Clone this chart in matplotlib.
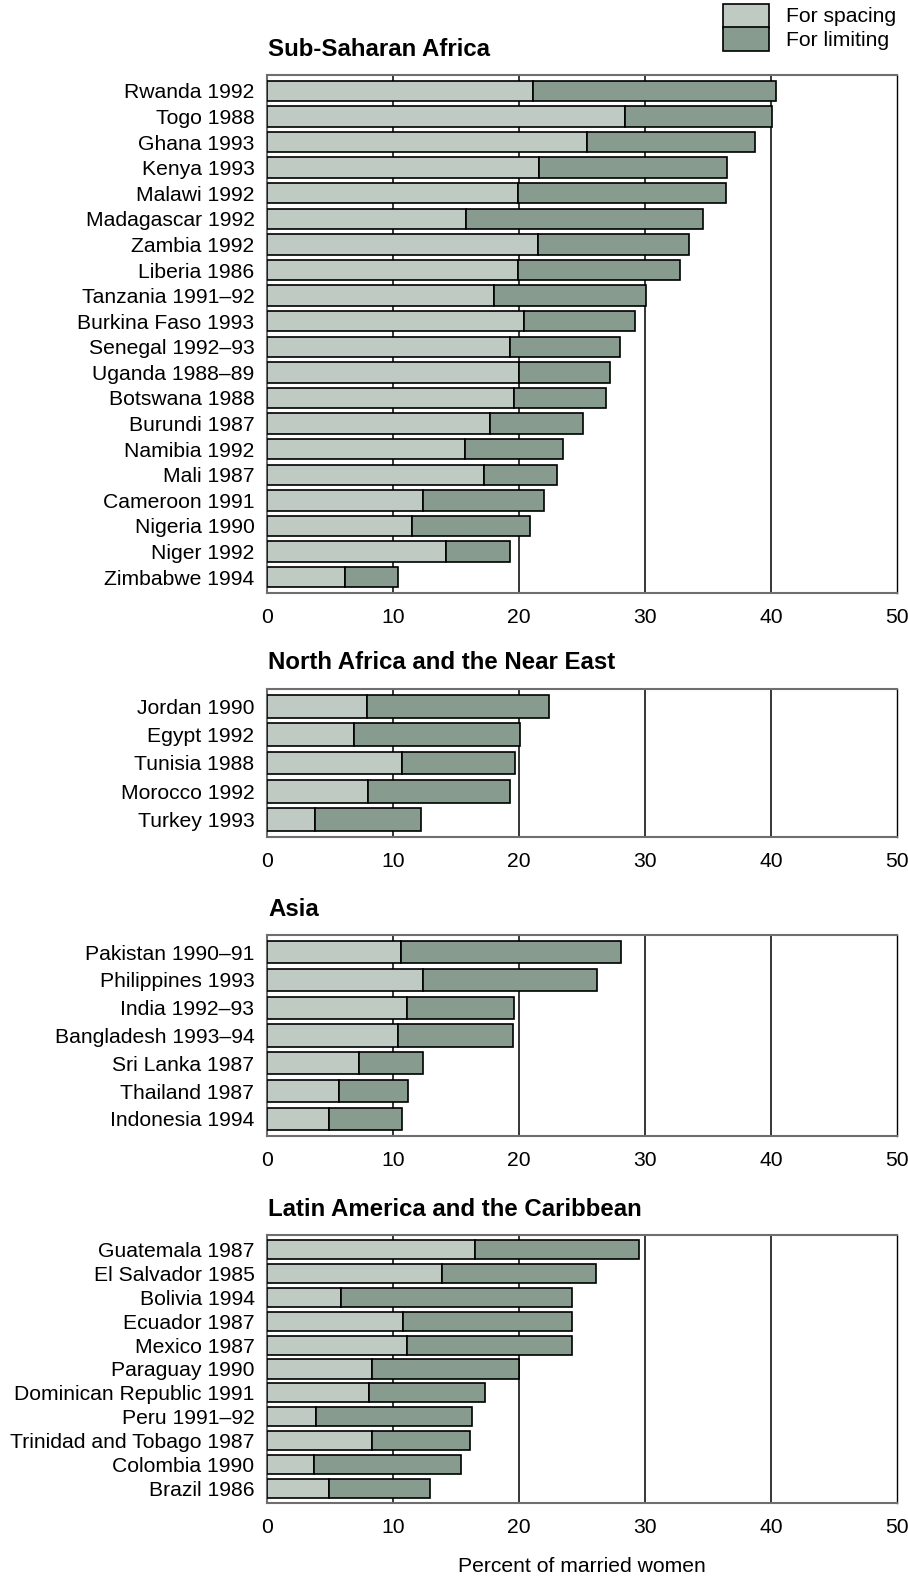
import matplotlib
matplotlib.use("Agg")
import matplotlib.pyplot as plt
from matplotlib.patches import Rectangle

plt.rcParams['font.family'] = ['Liberation Sans', 'DejaVu Sans']

# Percent of married women with unmet need for family planning
ssa_countries = ["Rwanda 1992", "Togo 1988", "Ghana 1993", "Kenya 1993", "Malawi 1992",
                 "Madagascar 1992", "Zambia 1992", "Liberia 1986", "Tanzania 1991\u201392",
                 "Burkina Faso 1993", "Senegal 1992\u201393", "Uganda 1988\u201389", "Botswana 1988",
                 "Burundi 1987", "Namibia 1992", "Mali 1987", "Cameroon 1991", "Nigeria 1990",
                 "Niger 1992", "Zimbabwe 1994"]
ssa_spacing = [21.1, 28.4, 25.4, 21.6, 19.9, 15.8, 21.5, 19.9, 18.0, 20.4,
               19.3, 20.0, 19.6, 17.7, 15.7, 17.2, 12.4, 11.5, 14.2, 6.2]
ssa_limiting = [19.3, 11.7, 13.3, 14.9, 16.5, 18.8, 12.0, 12.9, 12.1, 8.8,
                8.7, 7.2, 7.3, 7.4, 7.8, 5.8, 9.6, 9.4, 5.1, 4.2]

nafr_countries = ["Jordan 1990", "Egypt 1992", "Tunisia 1988", "Morocco 1992", "Turkey 1993"]
nafr_spacing = [7.9, 6.9, 10.7, 8.0, 3.8]
nafr_limiting = [14.5, 13.2, 9.0, 11.3, 8.4]

asia_countries = ["Pakistan 1990\u201391", "Philippines 1993", "India 1992\u201393",
                  "Bangladesh 1993\u201394", "Sri Lanka 1987", "Thailand 1987", "Indonesia 1994"]
asia_spacing = [10.6, 12.4, 11.1, 10.4, 7.3, 5.7, 4.9]
asia_limiting = [17.5, 13.8, 8.5, 9.1, 5.1, 5.5, 5.8]

lac_countries = ["Guatemala 1987", "El Salvador 1985", "Bolivia 1994", "Ecuador 1987",
                 "Mexico 1987", "Paraguay 1990", "Dominican Republic 1991", "Peru 1991\u201392",
                 "Trinidad and Tobago 1987", "Colombia 1990", "Brazil 1986"]
lac_spacing = [16.5, 13.9, 5.9, 10.8, 11.1, 8.3, 8.1, 3.9, 8.3, 3.7, 4.9]
lac_limiting = [13.0, 12.2, 18.3, 13.4, 13.1, 11.7, 9.2, 12.4, 7.8, 11.7, 8.0]

x_ticks = [0, 10, 20, 30, 40, 50]
x_label = "Percent of married women"
legend_labels = ["For spacing", "For limiting"]

regions = [
    ("Sub-Saharan Africa", ssa_countries, ssa_spacing, ssa_limiting, 75, 593),
    ("North Africa and the Near East", nafr_countries, nafr_spacing, nafr_limiting, 689, 837),
    ("Asia", asia_countries, asia_spacing, asia_limiting, 935, 1136),
    ("Latin America and the Caribbean", lac_countries, lac_spacing, lac_limiting, 1235, 1503),
]

W, H = 908, 1579
fig = plt.figure(figsize=(W / 100, H / 100), dpi=100)

LIGHT = "#bfcbc2"
DARK = "#879c8f"
FS = 15.2
left_px, right_px = 267, 897

for title, names, spacing, limiting, top_px, bot_px in regions:
    ax = fig.add_axes([left_px / W, 1 - bot_px / H, (right_px - left_px) / W, (bot_px - top_px) / H])
    n = len(names)
    ypos = list(range(n))
    ax.barh(ypos, spacing, height=0.8, color=LIGHT, edgecolor="black", linewidth=1.2, zorder=3)
    ax.barh(ypos, limiting, left=spacing, height=0.8, color=DARK, edgecolor="black",
            linewidth=1.2, zorder=3)
    ax.set_xlim(0, 50)
    ax.set_ylim(n - 0.5 + 0.12, -0.5 - 0.12)
    ax.set_yticks(ypos)
    ax.set_yticklabels(names, fontsize=FS)
    ax.set_xticks(x_ticks)
    ax.set_xticklabels([str(t) for t in x_ticks], fontsize=FS)
    ax.tick_params(axis="both", length=0)
    ax.tick_params(axis="y", pad=9)
    ax.tick_params(axis="x", pad=10.5)
    for g in x_ticks[1:-1]:
        ax.axvline(g, color="black", linewidth=1.1, zorder=1)
    for side in ("top", "left", "bottom"):
        ax.spines[side].set_color("#6e6e6e")
        ax.spines[side].set_linewidth(1.5)
    ax.spines["right"].set_color("black")
    ax.spines["right"].set_linewidth(1.0)
    fig.text(268 / W, 1 - (top_px - 26) / H, title, fontsize=17.3, fontweight="bold",
             ha="left", va="center")

fig.text((left_px + right_px) / 2 / W, 1 - 1566 / H, x_label, fontsize=FS, ha="center", va="center")

# legend: two stacked swatches with labels
for i, (lab, col) in enumerate(zip(legend_labels, [LIGHT, DARK])):
    y0 = 4 + 23.5 * i
    fig.patches.append(Rectangle((723 / W, 1 - (y0 + 23.5) / H), 46 / W, 23.5 / H,
                                 transform=fig.transFigure, facecolor=col,
                                 edgecolor="black", linewidth=1.2))
    fig.text(786 / W, 1 - (y0 + 13) / H, lab, fontsize=FS, ha="left", va="center")

fig.savefig("out.png", dpi=100)
